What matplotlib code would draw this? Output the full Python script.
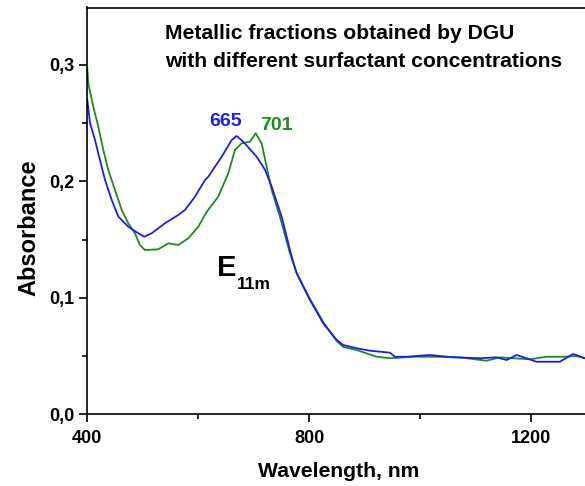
import matplotlib
matplotlib.use("Agg")
import matplotlib.pyplot as plt
from matplotlib.ticker import FixedLocator, FuncFormatter

plt.rcParams['font.family'] = ['Liberation Sans', 'DejaVu Sans']
plt.rcParams['font.weight'] = 'bold'

# Data
wl_blue = [400, 404.9, 413.9, 419.8, 431.9, 444.0, 455.9, 473.9, 491.9, 502.7, 516.0, 540.0,
           564.0, 576.0, 594.1, 612.1, 618.0, 642.2, 660.2, 669.2, 681.1, 705.2, 720.2,
           732.3, 750.3, 768.3, 777.3, 801.3, 825.2, 849.4, 861.3, 885.4, 909.4, 945.4,
           954.4, 975.5, 1017.5, 1059.5, 1107.6, 1137.7, 1155.7, 1173.7, 1191.7, 1209.7,
           1251.7, 1275.7, 1296.8]
abs_blue = [0.270, 0.250, 0.2355, 0.224, 0.2012, 0.1840, 0.1697, 0.1610, 0.1554, 0.1524, 0.1554,
            0.1640, 0.1711, 0.1754, 0.1868, 0.2011, 0.2039, 0.2211, 0.2354, 0.2389, 0.2340,
            0.2211, 0.2100, 0.1954, 0.1696, 0.1353, 0.1210, 0.0981, 0.0781, 0.0639, 0.0595,
            0.0567, 0.0546, 0.0529, 0.0494, 0.0494, 0.0509, 0.0489, 0.0481, 0.0489, 0.0466,
            0.0509, 0.0481, 0.0451, 0.0451, 0.0518, 0.0481]

wl_green = [400, 401.8, 410.8, 419.8, 428.8, 437.8, 449.9, 462.0, 473.9, 485.9, 494.9, 504.0,
            527.9, 545.9, 564.0, 582.0, 600.0, 612.1, 618.0, 636.0, 654.1, 666.1, 678.2,
            693.2, 703.4, 714.2, 723.2, 732.3, 747.2, 765.2, 777.3, 801.3, 825.2, 849.4,
            861.3, 885.4, 921.4, 945.4, 987.4, 1029.5, 1071.5, 1119.6, 1143.6, 1167.6,
            1197.7, 1227.7, 1257.7, 1281.8, 1296.8]
abs_green = [0.297, 0.284, 0.264, 0.247, 0.227, 0.2097, 0.1925, 0.1754, 0.1640, 0.1554, 0.1453,
             0.1410, 0.1416, 0.1468, 0.1453, 0.1511, 0.1610, 0.1713, 0.1756, 0.1868, 0.2069,
             0.2269, 0.2326, 0.2340, 0.2412, 0.2326, 0.2125, 0.1925, 0.1696, 0.1382, 0.1213,
             0.0990, 0.0792, 0.0629, 0.0578, 0.0552, 0.0494, 0.0481, 0.0494, 0.0494, 0.0489,
             0.0460, 0.0489, 0.0481, 0.0472, 0.0494, 0.0494, 0.0500, 0.0481]

x_major = [400, 800, 1200]
x_minor = [600, 1000]
y_major = [0.0, 0.1, 0.2, 0.3]
y_minor = [0.05, 0.15, 0.25]

BLUE = '#1c1cf5'
GREEN = '#1e8a1e'

W, H = 585, 486
fig = plt.figure(figsize=(W / 100, H / 100), dpi=100)
left, right, bottom, top = 87.3, 585.0, 414.3, 7.5
ax = fig.add_axes([left / W, 1 - bottom / H, (right - left) / W, (bottom - top) / H])

ax.plot(wl_green, abs_green, color=GREEN, lw=1.3)
ax.plot(wl_blue, abs_blue, color=BLUE, lw=1.3)

ax.set_xlim(400, 1297)
ax.set_ylim(0, 0.3492)

ax.spines['right'].set_visible(False)
for s in ['left', 'bottom', 'top']:
    ax.spines[s].set_linewidth(1.2)

ax.xaxis.set_major_locator(FixedLocator(x_major))
ax.xaxis.set_minor_locator(FixedLocator(x_minor))
ax.yaxis.set_major_locator(FixedLocator(y_major))
ax.yaxis.set_minor_locator(FixedLocator(y_minor))
ax.yaxis.set_major_formatter(FuncFormatter(lambda v, p: f"{v:.1f}".replace('.', ',')))
ax.xaxis.set_major_formatter(FuncFormatter(lambda v, p: f"{v:.0f}"))
ax.tick_params(axis='both', which='major', direction='out', length=6, width=1.2,
               labelsize=13)
ax.tick_params(axis='both', which='minor', direction='out', length=3.5, width=1.2)
ax.tick_params(axis='x', which='major', pad=5)
ax.tick_params(axis='y', which='major', pad=3)
ax.tick_params(top=False, right=False, which='both')
for lab in ax.get_xticklabels() + ax.get_yticklabels():
    lab.set_fontweight('bold')

def axfrac(px, py):
    return ((px - left) / (right - left), (bottom - py) / (bottom - top))

ax.set_xlabel('Wavelength, nm', fontsize=15.2, fontweight='bold')
ax.xaxis.set_label_coords(*axfrac(338.3, 461.6))
ax.set_ylabel('Absorbance', fontsize=17, fontweight='bold')
ax.yaxis.set_label_coords(*axfrac(40, 228))

ax.text(*axfrac(165, 39), 'Metallic fractions obtained by DGU', transform=ax.transAxes,
        fontsize=15.2, fontweight='bold', ha='left', va='baseline')
ax.text(*axfrac(165, 66.5), 'with different surfactant concentrations', transform=ax.transAxes,
        fontsize=15.2, fontweight='bold', ha='left', va='baseline')
ax.text(*axfrac(209, 125.5), '665', transform=ax.transAxes, color=BLUE,
        fontsize=14, fontweight='bold', ha='left', va='baseline')
ax.text(*axfrac(260, 129.5), '701', transform=ax.transAxes, color=GREEN,
        fontsize=14, fontweight='bold', ha='left', va='baseline')
ax.text(*axfrac(217, 276), 'E', transform=ax.transAxes, color='black',
        fontsize=21, fontweight='bold', ha='left', va='baseline')
ax.text(*axfrac(237, 289), '11m', transform=ax.transAxes, color='black',
        fontsize=12.5, fontweight='bold', ha='left', va='baseline')

fig.savefig('out.png', dpi=100)
